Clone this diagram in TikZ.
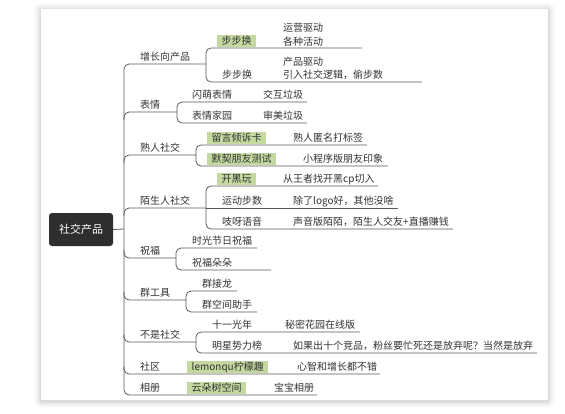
\documentclass[tikz,border=0pt]{standalone}
\usepackage{fontspec}
\setmainfont{Noto Sans CJK SC}
\definecolor{txt}{HTML}{333333}
\definecolor{ln}{HTML}{5A5A5A}
\definecolor{hl}{HTML}{C3D9A0}
\definecolor{rootc}{HTML}{2E2E2E}
\begin{document}
\begin{tikzpicture}[x=1pt,y=-1pt,
  t/.style={anchor=west, inner sep=0pt, text height=8pt, text depth=2pt, font=\fontsize{10pt}{12pt}\selectfont, text=txt},
  hlbox/.style={t, fill=hl, inner xsep=4.5pt, inner ysep=1pt},
  conn/.style={draw=ln, line width=0.8pt, rounded corners=5pt},
  rootbox/.style={fill=rootc, rounded corners=3pt, text=white, font=\fontsize{11pt}{13pt}\selectfont, minimum width=64pt, minimum height=33pt, inner sep=0pt}]
\useasboundingbox (0,0) rectangle (565,413);
% card with soft shadow
\foreach \i/\o in {7/0.02,5/0.03,3/0.04,1.5/0.06}{
  \fill[black,opacity=\o,rounded corners=\i] (41-\i,9-\i+1) rectangle (548+\i,400+\i+1);
}
\fill[white] (41,9) rectangle (548,400);

% root
\node[rootbox] (root) at (81,229.5) {社交产品};

% spine and main branches
\coordinate (sp) at (124,229);
\draw[conn] (root.east) -- (sp);
\draw[conn] (206,64) -- (124,64) -- (124,395) -- (317,395);
\draw[conn] (124,120) -- (124,112) -- (177,112);
\draw[conn] (124,163) -- (124,155) -- (196,155);
\draw[conn] (124,216) -- (124,208) -- (206,208);
\draw[conn] (124,250) -- (124,258) -- (176,258);
\draw[conn] (124,292) -- (124,300) -- (186,300);
\draw[conn] (124,334) -- (124,342) -- (196,342);
\draw[conn] (124,366) -- (124,374) -- (380,374);

% sub brackets
\draw[conn] (362,48) -- (206,48) -- (206,82) -- (422,82);
\draw[conn] (307,102) -- (177,102) -- (177,123) -- (307,123);
\draw[conn] (367,145) -- (196,145) -- (196,166) -- (388,166);
\draw[conn] (378,186) -- (206,186) -- (206,229) -- (453,229);
\draw[conn] (206,208) -- (398,208);
\draw[conn] (257,248) -- (176,248) -- (176,270) -- (271,270);
\draw[conn] (237,291) -- (186,291) -- (186,312) -- (257,312);
\draw[conn] (360,332) -- (196,332) -- (196,353) -- (537,353);

% level 1 texts
\node[t] (a) at (140,57.5) {增长向产品};
\node[t] (b) at (140,105.5) {表情};
\node[t] (c) at (140,148.5) {熟人社交};
\node[t] (d) at (140,201.5) {陌生人社交};
\node[t] (e) at (140,251.5) {祝福};
\node[t] (f) at (140,293.5) {群工具};
\node[t] (g) at (140,335.5) {不是社交};
\node[t] (h) at (140,367.5) {社区};
\node[t] (i) at (140,388.5) {相册};

% 增长向产品
\node[hlbox] (a1) at (217,41) {步步换};
\node[t] (a1g1) at (283,28) {运营驱动};
\node[t] (a1g2) at (283,42) {各种活动};
\node[t] (a2) at (222,75.5) {步步换};
\node[t] (a2g1) at (283,62) {产品驱动};
\node[t] (a2g2) at (283,75.5) {引入社交逻辑，偷步数};

% 表情
\node[t] (b1) at (192,95.5) {闪萌表情};
\node[t] (b1g) at (263,95.5) {交互垃圾};
\node[t] (b2) at (192,116.5) {表情家园};
\node[t] (b2g) at (263,116.5) {审美垃圾};

% 熟人社交
\node[hlbox] (c1) at (207,138) {留言倾诉卡};
\node[t] (c1g) at (293,138.5) {熟人匿名打标签};
\node[hlbox] (c2) at (207,159) {默契朋友测试};
\node[t] (c2g) at (303,159.5) {小程序版朋友印象};

% 陌生人社交
\node[hlbox] (d1) at (217,179) {开黑玩};
\node[t] (d1g) at (283,179.5) {从王者找开黑cp切入};
\node[t] (d2) at (222,201.5) {运动步数};
\node[t] (d2g) at (293,201.5) {除了logo好，其他没啥};
\node[t] (d3) at (222,222.5) {吱呀语音};
\node[t] (d3g) at (293,222.5) {声音版陌陌，陌生人交友+直播赚钱};

% 祝福
\node[t] (e1) at (192,241.5) {时光节日祝福};
\node[t] (e2) at (192,263.5) {祝福朵朵};

% 群工具
\node[t] (f1) at (202,284.5) {群接龙};
\node[t] (f2) at (202,305.5) {群空间助手};

% 不是社交
\node[t] (g1) at (212,325.5) {十一光年};
\node[t] (g1g) at (285,325.5) {秘密花园在线版};
\node[t] (g2) at (212,346.5) {明星势力榜};
\node[t] (g2g) at (293,346.5) {如果出十个竞品，粉丝要忙死还是放弃呢？当然是放弃};

% 社区
\node[hlbox] (h1) at (187,367) {lemonqu柠檬趣};
\node[t] (h1g) at (297,367.5) {心智和增长都不错};

% 相册
\node[hlbox] (i1) at (187,388) {云朵树空间};
\node[t] (i1g) at (274,388.5) {宝宝相册};
\end{tikzpicture}
\end{document}
